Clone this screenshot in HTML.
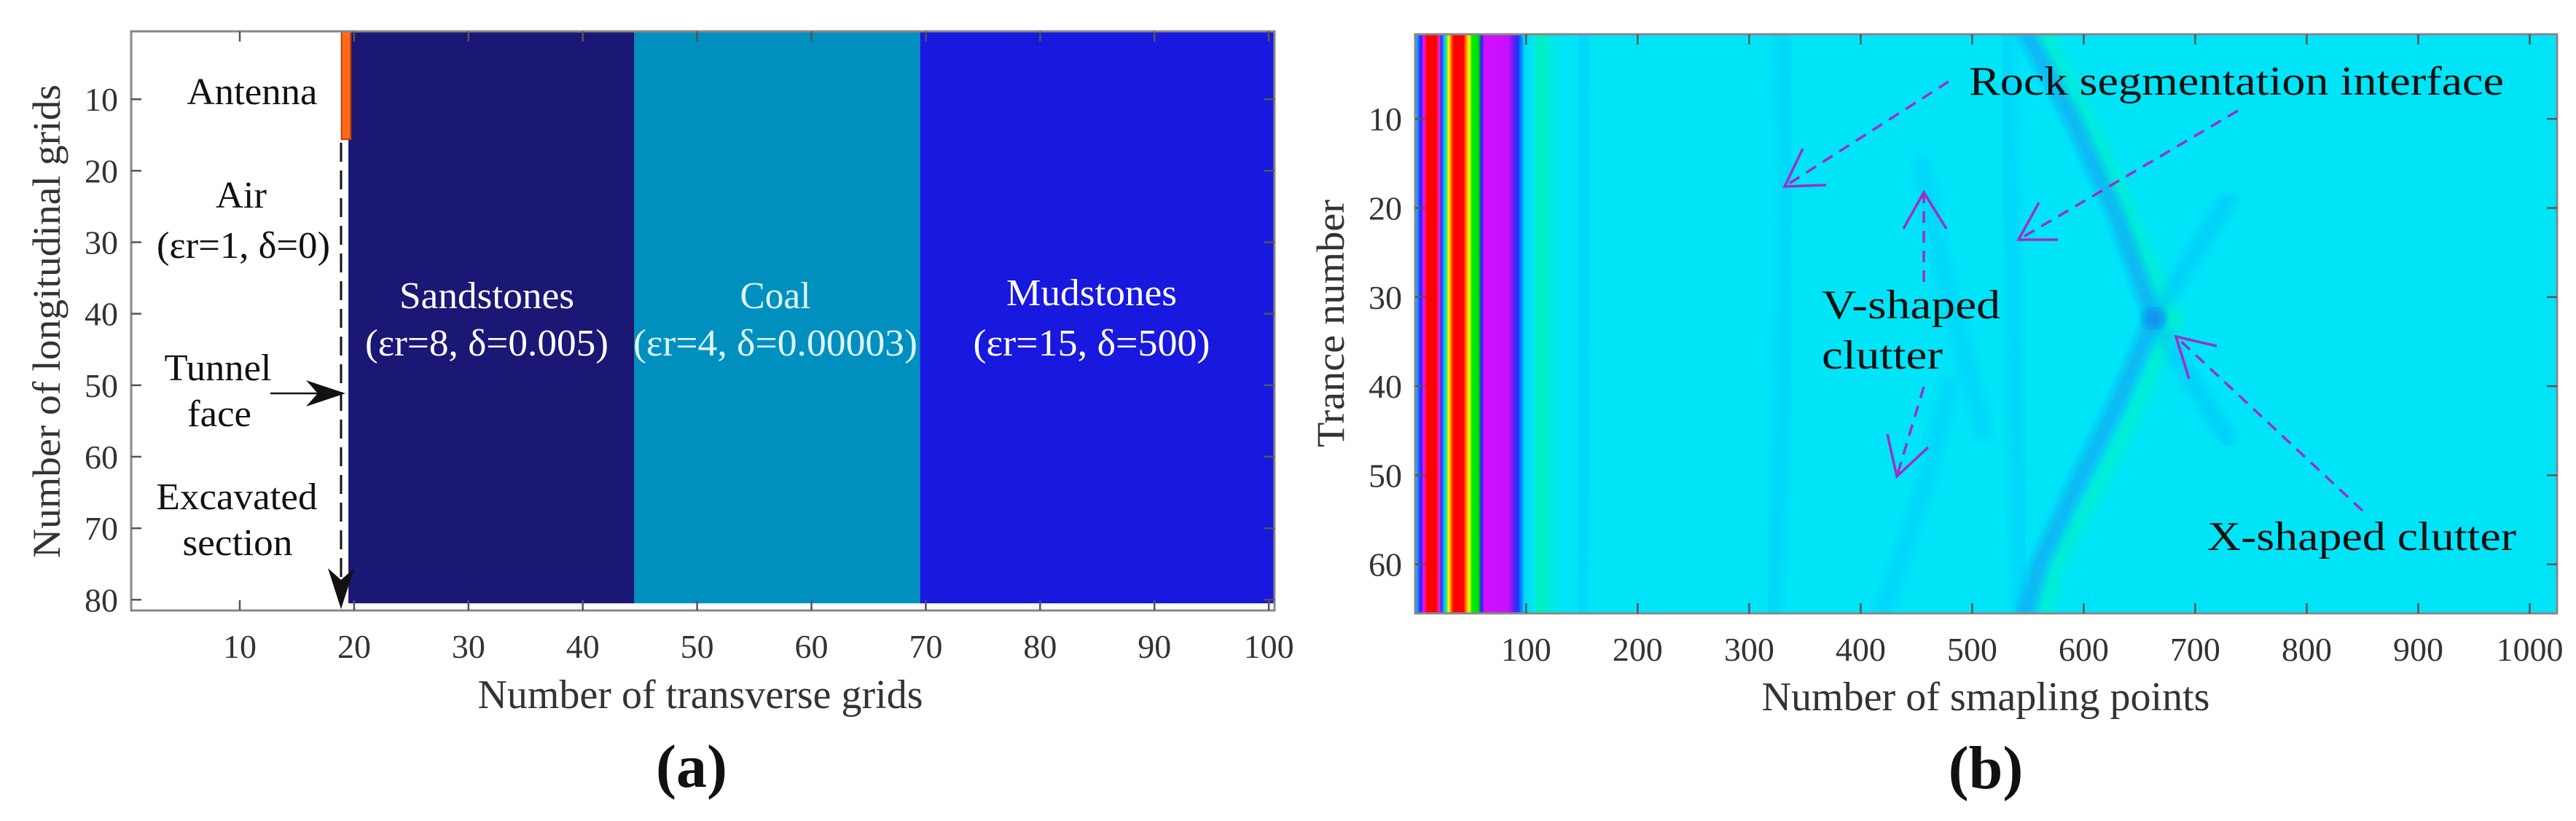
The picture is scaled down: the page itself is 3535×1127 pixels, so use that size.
<!DOCTYPE html>
<html><head><meta charset="utf-8"><style>
html,body{margin:0;padding:0;background:#fff;}
svg{display:block;}
text{font-family:"Liberation Serif",serif;}
</style></head><body>
<svg id="fig" width="3535" height="1127" viewBox="0 0 3535 1127" xmlns="http://www.w3.org/2000/svg">
<defs>
<filter id="blur" x="-20%" y="-5%" width="140%" height="110%"><feGaussianBlur stdDeviation="7"/></filter>
<filter id="blur2" x="-20%" y="-5%" width="140%" height="110%"><feGaussianBlur stdDeviation="5"/></filter>
<clipPath id="clipB"><rect x="1942" y="47" width="1567" height="795"/></clipPath>
<linearGradient id="stripes" gradientUnits="userSpaceOnUse" x1="1942" y1="0" x2="2200" y2="0"></linearGradient>
</defs>
<g id="panelA"></g>
<g id="panelB"></g>
</svg>
<script>
// ---------- Panel (a) data ----------
const layerNames = ["Sandstones","Coal","Mudstones"];
const layerParams = ["(εr=8, δ=0.005)","(εr=4, δ=0.00003)","(εr=15, δ=500)"];
const layerStart = [19.5,44.5,69.5];
const layerEnd = [44.5,69.5,100.5];
const layerColors = ["#1a1775","#0090c0","#1818de"];
const aXTicks = [10,20,30,40,50,60,70,80,90,100];
const aYTicks = [10,20,30,40,50,60,70,80];
const antennaX = [18.9,19.7];
const antennaY = [0.5,15.6];
// ---------- Panel (b) data ----------
const bXTicks = [100,200,300,400,500,600,700,800,900,1000];
const bYTicks = [10,20,30,40,50,60];
const stripeSamples = [1,2,5.7,8.3,11,19.4,22,24,27,29,30.5,32.5,35,44,46,49,51.4,57,60,62.5,84,89,92.6,96,98.5,107,111,120,132];
const stripeColors = ["#00c8f0","#20a0ff","#2020ff","#ff10ff","#ff0000","#ff0000","#ff20d0","#3030ff","#00d0f0","#40f060","#ffff00","#ff8000","#ff0000","#ff0000","#ff8000","#ffff00","#00ee00","#00e000","#2020ff","#d010ff","#c810ff","#6020f0","#2030ff","#0090ff","#00d8f8","#00e8f0","#00f0b8","#00ecd8","#00e4f8"];
// dark clutter lines (sample, trace)
const darkA_x = [549,590,630,663]; const darkA_y = [0.5,10,21,32.4];
const darkB_x = [663,630,590,560,548]; const darkB_y = [32.4,42,52,60,65.5];
const darkC_x = [663,700,730]; const darkC_y = [32.4,25,19];
const darkD_x = [663,700,730]; const darkD_y = [32.4,40,46];
const greenA_x = [565,610,650,680]; const greenA_y = [0.5,12,24,32.4];
const greenB_x = [680,645,605,575,565]; const greenB_y = [32.4,43,53,60,65.5];
const faint_x = [[330,335,330,320],[455,470,490,510],[420,440,460,480],[530,535,540,545],[150,155,150,148]];
const faint_y = [[0.5,20,45,65.5],[15,25,35,45],[65.5,58,50,40],[0.5,20,45,65.5],[0.5,20,45,65.5]];

const NS="http://www.w3.org/2000/svg";
function el(tag, attrs, parent){const e=document.createElementNS(NS,tag);for(const k in attrs)e.setAttribute(k,attrs[k]);parent.appendChild(e);return e;}
function txt(parent,s,x,y,size,opts){const t=el('text',Object.assign({x:x,y:y,'font-size':size,fill:'#111'},opts||{}),parent);t.textContent=s;return t;}

// ---------- Panel A ----------
const A=document.getElementById('panelA');
const aL=180,aR=1749,aT=43,aB=838;
const ax=v=>aL+(v-0.5)/(100)*(aR-aL);
const ay=v=>aT+(v-0.5)/(81)*(aB-aT);
el('rect',{x:aL,y:aT,width:aR-aL,height:aB-aT,fill:'#fff'},A);
for(let i=0;i<layerNames.length;i++){
  const r=el('rect',{x:ax(layerStart[i]),y:ay(0.5),width:ax(layerEnd[i])-ax(layerStart[i]),height:ay(80.5)-ay(0.5),fill:layerColors[i]},A);
  
  
}
const ant=el('rect',{x:ax(antennaX[0]),y:ay(antennaY[0]),width:ax(antennaX[1])-ax(antennaX[0]),height:ay(antennaY[1])-ay(antennaY[0]),fill:'#ff6a1a',stroke:'#c04000','stroke-width':2},A);


el('rect',{x:aL,y:aT,width:aR-aL,height:aB-aT,fill:'none',stroke:'#888','stroke-width':3},A);
aXTicks.forEach(v=>{
  el('line',{x1:ax(v),x2:ax(v),y1:aB,y2:aB-14,stroke:'#555','stroke-width':2.5},A);
  el('line',{x1:ax(v),x2:ax(v),y1:aT,y2:aT+14,stroke:'#555','stroke-width':2.5},A);
  const t=txt(A,String(v),ax(v),903,46,{'text-anchor':'middle',fill:'#333'});
  
  
});
aYTicks.forEach(v=>{
  el('line',{x1:aL,x2:aL+14,y1:ay(v),y2:ay(v),stroke:'#555','stroke-width':2.5},A);
  el('line',{x1:aR,x2:aR-14,y1:ay(v),y2:ay(v),stroke:'#555','stroke-width':2.5},A);
  const t=txt(A,String(v),162,ay(v)+16,46,{'text-anchor':'end',fill:'#333'});
  
  
});
const lcx=[668,1064,1498];
const lny=[423,423,419];
for(let i=0;i<3;i++){
  const w1=[240,97,234][i],w2=[334,390,325][i];
  const col=i==1?'#e0f6ff':'#ffffff';
  const t1=txt(A,layerNames[i],lcx[i],lny[i],52,{'text-anchor':'middle',fill:col,textLength:w1,lengthAdjust:'spacingAndGlyphs'});
  
  
  const t2=txt(A,layerParams[i],lcx[i],488,52,{'text-anchor':'middle',fill:col,textLength:w2,lengthAdjust:'spacingAndGlyphs'});
  
  
}
[["Antenna",346,143,179],["Air",331,285,70],["(εr=1, δ=0)",334,354,238],["Tunnel",299,522,147],["face",301,585,88],["Excavated",325,699,221],["section",326,762,151]].forEach(d=>{
  const t=txt(A,d[0],d[1],d[2],52,{'text-anchor':'middle',textLength:d[3],lengthAdjust:'spacingAndGlyphs'});
  
  
});
el('line',{x1:468,y1:196,x2:468,y2:800,stroke:'#111','stroke-width':3,'stroke-dasharray':'26,12'},A);
el('path',{d:'M450,780 L468,836 L486,780 L468,796 Z',fill:'#111'},A);
el('line',{x1:371,y1:540,x2:455,y2:540,stroke:'#111','stroke-width':2.5},A);
el('path',{d:'M420,522 L474,540 L420,558 L436,540 Z',fill:'#111'},A);
const axA=txt(A,"Number of transverse grids",961,972,56,{'text-anchor':'middle',fill:'#333',textLength:611,lengthAdjust:'spacingAndGlyphs'});


const ayA=txt(A,"Number of longitudinal grids",0,0,54,{'text-anchor':'middle',fill:'#333',transform:'translate(82,441) rotate(-90)',textLength:650,lengthAdjust:'spacingAndGlyphs'});


const capA=txt(A,"(a)",949,1080,84,{'text-anchor':'middle','font-weight':'bold','font-family':'Liberation Sans, sans-serif'});



// ---------- Panel B ----------
const B=document.getElementById('panelB');
const bL=1942,bR=3509,bT=47,bB=842;
const bx=v=>bL+(v-0.5)/1024*(bR-bL);
const by=v=>bT+(v-0.5)/65*(bB-bT);
const grad=document.getElementById('stripes');
grad.setAttribute('x2',String(bx(stripeSamples[stripeSamples.length-1])));
stripeSamples.forEach((s,i)=>{
  const off=(bx(s)-bL)/(bx(stripeSamples[stripeSamples.length-1])-bL);
  el('stop',{offset:Math.max(0,Math.min(1,off)),'stop-color':stripeColors[i]},grad);
});
const hg=el('g',{'clip-path':'url(#clipB)'},B);


el('rect',{x:bL,y:bT,width:bR-bL,height:bB-bT,fill:'#00e4f8'},hg);
el('rect',{x:bL,y:bT,width:bx(stripeSamples[stripeSamples.length-1])-bL,height:bB-bT,fill:'url(#stripes)'},hg);
function poly(xs,ys,color,w,op,filt,name){
  const p=el('polyline',{points:xs.map((x,i)=>bx(x)+','+by(ys[i])).join(' '),fill:'none',stroke:color,'stroke-width':w,'stroke-opacity':op,'stroke-linecap':'round',filter:filt},hg);
  
  
}
for(let k=0;k<faint_x.length;k++) poly(faint_x[k],faint_y[k],'#00c8fa',24,0.45,'url(#blur)','faint-clutter');
poly(greenA_x,greenA_y,'#00f4c0',24,0.6,'url(#blur)','green-band-upper');
poly(greenB_x,greenB_y,'#00f4c0',24,0.6,'url(#blur)','green-band-lower');
poly(darkC_x,darkC_y,'#00b8f8',22,0.45,'url(#blur)','x-clutter-upper-right');
poly(darkD_x,darkD_y,'#00b8f8',22,0.45,'url(#blur)','x-clutter-lower-right');
poly(darkA_x,darkA_y,'#0aa8f4',24,0.7,'url(#blur2)','x-clutter-upper-left');
poly(darkB_x,darkB_y,'#0aa8f4',24,0.7,'url(#blur2)','x-clutter-lower-left');
el('circle',{cx:bx(663),cy:by(32.4),r:14,fill:'#0a96f0',filter:'url(#blur2)'},hg);
el('rect',{x:bL,y:bT,width:bR-bL,height:bB-bT,fill:'none',stroke:'#888','stroke-width':3},B);
bXTicks.forEach(v=>{
  el('line',{x1:bx(v),x2:bx(v),y1:bB,y2:bB-14,stroke:'#555','stroke-width':2.5},B);
  el('line',{x1:bx(v),x2:bx(v),y1:bT,y2:bT+14,stroke:'#555','stroke-width':2.5},B);
  const t=txt(B,String(v),bx(v),907,46,{'text-anchor':'middle',fill:'#333'});
  
  
});
bYTicks.forEach(v=>{
  el('line',{x1:bL,x2:bL+14,y1:by(v),y2:by(v),stroke:'#555','stroke-width':2.5},B);
  el('line',{x1:bR,x2:bR-14,y1:by(v),y2:by(v),stroke:'#555','stroke-width':2.5},B);
  const t=txt(B,String(v),1924,by(v)+16,46,{'text-anchor':'end',fill:'#333'});
  
  
});
[["Rock segmentation interface",2702,130,734],["V-shaped",2500,437,245],["clutter",2500,506,166],["X-shaped clutter",3029,755,424]].forEach(d=>{
  const t=txt(B,d[0],d[1],d[2],56,{textLength:d[3],lengthAdjust:'spacingAndGlyphs'});
  
  
});
const arrows=[[2674,112,2449,256,2474,204,2506,254],[3071,152,2770,329,2798,278,2824,329],[2640,387,2640,264,2612,314,2671,314],[2640,531,2603,654,2590,596,2646,614],[3242,701,2986,462,3042,475,3004,520]];
arrows.forEach(a=>{
  const g=el('g',{},B);
  
  
  el('line',{x1:a[0],y1:a[1],x2:a[2],y2:a[3],stroke:'#9b30c8','stroke-width':3.5,'stroke-dasharray':'16,11'},g);
  el('polyline',{points:a[4]+','+a[5]+' '+a[2]+','+a[3]+' '+a[6]+','+a[7],fill:'none',stroke:'#9b30c8','stroke-width':3.5},g);
});
const axB=txt(B,"Number of smapling points",2725,975,56,{'text-anchor':'middle',fill:'#333',textLength:615,lengthAdjust:'spacingAndGlyphs'});


const ayB=txt(B,"Trance number",0,0,54,{'text-anchor':'middle',fill:'#333',transform:'translate(1844,444) rotate(-90)',textLength:340,lengthAdjust:'spacingAndGlyphs'});


const capB=txt(B,"(b)",2725,1082,84,{'text-anchor':'middle','font-weight':'bold','font-family':'Liberation Sans, sans-serif'});


</script>
</body></html>
